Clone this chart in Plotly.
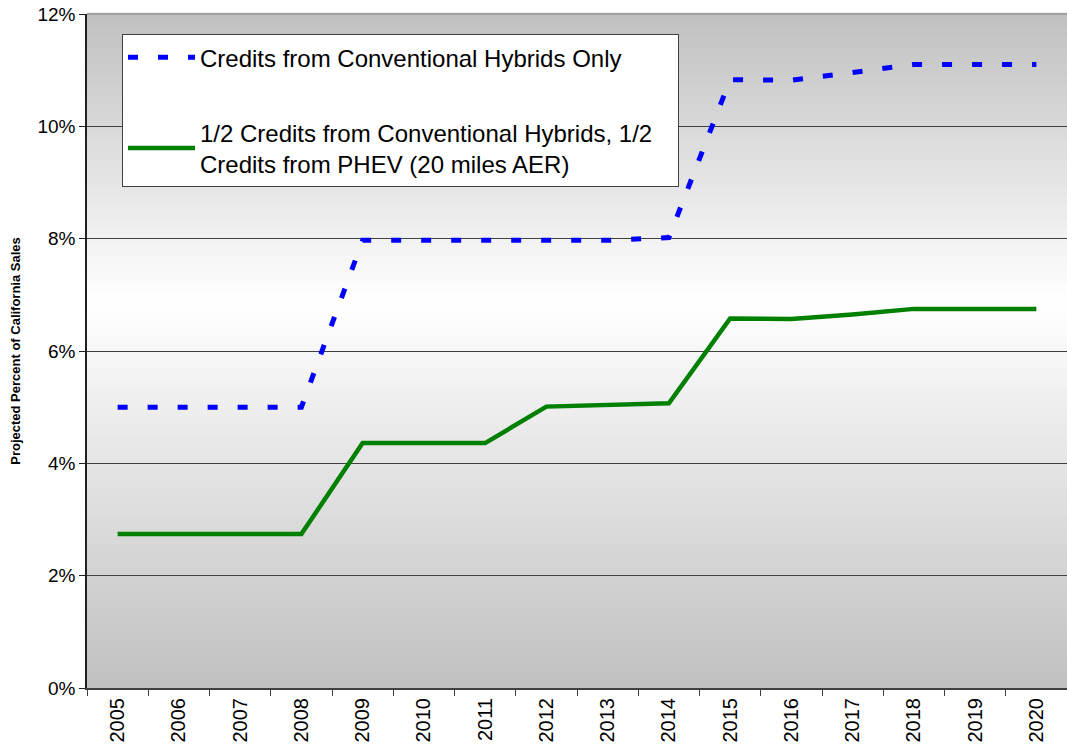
import plotly.graph_objects as go

years = [str(y) for y in range(2005, 2021)]
conventional_only = [5.0, 5.0, 5.0, 5.0, 7.97, 7.97, 7.97, 7.95, 7.97, 8.02,
                     10.83, 10.82, 10.95, 11.1, 11.1, 11.1]
half_phev = [2.74, 2.74, 2.74, 2.74, 4.36, 4.36, 4.36, 5.01, 5.04, 5.07,
             6.58, 6.57, 6.65, 6.75, 6.75, 6.75]
name_conv = 'Credits from Conventional Hybrids Only'
name_phev = ('1/2 Credits from Conventional Hybrids, 1/2\u00a0\u00a0\u00a0'
             '<br>Credits from PHEV (20 miles AER)')

fig = go.Figure()
fig.add_trace(go.Scatter(x=years, y=conventional_only, name=name_conv, mode='lines',
                         legendgroup='a',
                         line=dict(color='#0000ff', width=5, dash='10px,20px')))
fig.add_trace(go.Scatter(x=years, y=half_phev, name=name_phev, mode='lines',
                         legendgroup='b',
                         line=dict(color='#008000', width=4.5)))

# background gradient: gray at top and bottom, white around 7%
shapes = []
n = 220
peak = 0.575
for i in range(n):
    t = (i + 0.5) / n
    if t < peak:
        v = 192 + (255 - 192) * t / peak
    else:
        v = 255 - (255 - 192) * (t - peak) / (1 - peak)
    c = int(round(v))
    shapes.append(dict(type='rect', xref='paper', yref='paper', x0=0, x1=1,
                       y0=i / n, y1=(i + 1) / n + 0.002, fillcolor=f'rgb({c},{c},{c})',
                       line=dict(width=0), layer='below'))
shapes.append(dict(type='line', xref='paper', yref='paper', x0=0, x1=1, y0=1, y1=1,
                   line=dict(color='#a0a0a0', width=2), layer='below'))

fig.update_layout(
    width=1067, height=746,
    margin=dict(l=87, r=0, t=14, b=58),
    paper_bgcolor='white', plot_bgcolor='rgba(0,0,0,0)',
    font=dict(family='Liberation Sans, Arial, sans-serif', color='black'),
    shapes=shapes,
    showlegend=True,
    legend=dict(x=0.0357, y=0.970, xanchor='left', yanchor='top',
                bgcolor='white', bordercolor='#404040', borderwidth=1,
                font=dict(size=24), traceorder='grouped', tracegroupgap=41,
                itemwidth=67),
    xaxis=dict(type='category', range=[-0.5, 15.5], tickangle=-90,
               tickfont=dict(size=20), ticks='outside', tickson='boundaries',
               ticklen=6, tickcolor='#404040', automargin=False,
               ticklabeloverflow='allow',
               showline=True, linecolor='#404040', linewidth=2,
               showgrid=False, zeroline=False),
    yaxis=dict(range=[0, 12], tickvals=[0, 2, 4, 6, 8, 10, 12],
               ticktext=['0%', '2%', '4%', '6%', '8%', '10%', '12%'],
               tickfont=dict(size=19), ticks='outside', ticklen=6, tickcolor='#202020',
               showline=True, linecolor='#202020', linewidth=1.5, automargin=False,
               ticklabeloverflow='allow',
               showgrid=True, gridcolor='#404040', gridwidth=1, zeroline=False,
               title=dict(text='<b>Projected Percent of California Sales</b>',
                          font=dict(size=13), standoff=14)),
)

# drop the default body margin so the figure fills the window exactly
fig.write_html('out.html', config={'displayModeBar': False},
               post_script="document.body.style.margin='0';"
                           "document.body.style.overflow='hidden';")
